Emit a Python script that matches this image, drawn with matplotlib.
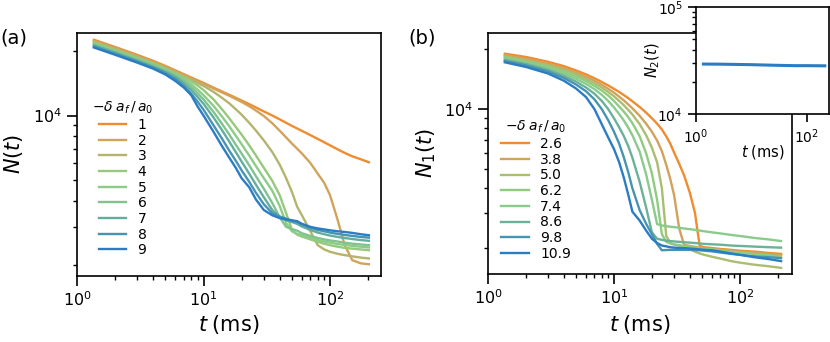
import numpy as np
import matplotlib.pyplot as plt
from matplotlib.ticker import NullFormatter, NullLocator, FixedLocator

# panel (a): N(t) for -delta a_f/a_0 = 1..9
t_a = [1.36, 2, 3, 4, 5, 6, 7, 8, 9, 10, 12, 14, 16, 18, 20, 23, 26, 30, 35, 40,
       45, 50, 55, 60, 70, 80, 90, 100, 115, 130, 150, 175, 203]
a_1 = [22600, 20900, 19200, 18000, 17050, 16250, 15600, 15050, 14600, 14200, 13500, 12950,
       12500, 12100, 11750, 11300, 10900, 10450, 10000, 9600, 9250, 8950, 8700, 8480, 8100,
       7780, 7500, 7260, 6950, 6700, 6450, 6250, 6050]
a_2 = [22370, 20690, 19010, 17820, 16880, 16090, 15440, 14900, 14450, 14060, 13370, 12820,
       12370, 11950, 11580, 11050, 10550, 9950, 9200, 8500, 7900, 7400, 7000, 6650, 6000,
       5350, 4850, 4250, 3250, 2500, 2110, 2040, 2020]
a_3 = [22150, 20480, 18820, 17640, 16710, 15930, 15290, 14700, 14200, 13750, 12900, 12100,
       11400, 10700, 10100, 9250, 8500, 7650, 6750, 5900, 5100, 4400, 3750, 3420, 2880,
       2480, 2370, 2310, 2260, 2230, 2200, 2170, 2150]
a_4 = [21920, 20270, 18620, 17460, 16540, 15760, 15100, 14450, 13800, 13150, 11900, 10700,
       9700, 8850, 8150, 7250, 6500, 5700, 4950, 4250, 3500, 2930, 2780, 2720, 2640,
       2570, 2520, 2480, 2440, 2410, 2390, 2370, 2350]
a_5 = [21700, 20060, 18430, 17280, 16370, 15550, 14800, 14000, 13200, 12450, 11100, 9900,
       8900, 8050, 7350, 6500, 5800, 5100, 4450, 3780, 3150, 2880, 2800, 2760, 2680,
       2620, 2580, 2550, 2510, 2490, 2460, 2440, 2420]
a_6 = [21470, 19860, 18240, 17100, 16200, 15350, 14500, 13600, 12700, 11900, 10400, 9150,
       8150, 7300, 6650, 5850, 5200, 4550, 3900, 3350, 3020, 2950, 2900, 2820, 2740,
       2680, 2640, 2610, 2580, 2550, 2520, 2500, 2480]
a_7 = [21240, 19650, 18050, 16920, 16000, 15100, 14150, 13150, 12200, 11350, 9800, 8550,
       7550, 6750, 6100, 5350, 4750, 4150, 3620, 3350, 3240, 3180, 3120, 3030, 2920,
       2840, 2790, 2750, 2710, 2680, 2650, 2620, 2600]
a_8 = [21020, 19440, 17860, 16740, 15800, 14800, 13750, 12650, 11600, 10650, 9000, 7800,
       6850, 6150, 5550, 4900, 4350, 3850, 3500, 3380, 3300, 3230, 3180, 3100, 2990,
       2920, 2880, 2840, 2800, 2770, 2740, 2710, 2690]
a_9 = [20790, 19230, 17660, 16560, 15550, 14500, 13500, 12450, 11000, 10000, 8400, 7200,
       6350, 5700, 5100, 4620, 4050, 3620, 3420, 3320, 3270, 3240, 3210, 3120, 3020,
       2970, 2940, 2910, 2880, 2860, 2830, 2790, 2760]
labels_a = ['1', '2', '3', '4', '5', '6', '7', '8', '9']

# panel (b): N_1(t)
t_b = [1.36, 2, 3, 4, 5, 6, 7, 8, 9, 10, 11, 12, 13, 14, 16, 18, 20, 22, 24, 26, 28, 30,
       33, 36, 40, 44, 46, 48, 52, 60, 70, 85, 100, 130, 170, 212]
b_26 = [19000, 18300, 17300, 16450, 15650, 14950, 14300, 13700, 13150, 12650, 12200, 11750,
        11350, 10950, 10250, 9600, 9000, 8450, 7900, 7300, 6700, 6050, 5300, 4650, 3800,
        3000, 2450, 2050, 2020, 2000, 1980, 1960, 1940, 1920, 1890, 1870]
b_38 = [18700, 17900, 16900, 16050, 15250, 14550, 13900, 13250, 12650, 12100, 11550, 11050,
        10550, 10100, 9250, 8450, 7700, 6950, 6150, 5250, 4450, 3700, 2500, 2080, 2050,
        2030, 2020, 2010, 2000, 1980, 1960, 1940, 1920, 1900, 1870, 1850]
b_50 = [18450, 17600, 16600, 15750, 14950, 14200, 13500, 12850, 12200, 11600, 11000, 10450,
        9900, 9400, 8400, 7400, 6400, 5400, 4000, 2300, 2120, 2080, 2050, 2020, 1970,
        1920, 1900, 1880, 1850, 1810, 1770, 1720, 1690, 1650, 1620, 1590]
b_62 = [18200, 17350, 16350, 15450, 14600, 13850, 13100, 12400, 11700, 11000, 10300, 9700,
        9100, 8500, 7300, 6000, 4750, 3500, 2350, 2150, 2110, 2090, 2070, 2050, 2030,
        2010, 2000, 1995, 1985, 1970, 1950, 1920, 1900, 1870, 1840, 1810]
b_74 = [17950, 17100, 16050, 15100, 14200, 13400, 12600, 11800, 11000, 10200, 9450, 8750,
        8050, 7400, 6100, 4700, 3500, 2640, 2600, 2580, 2560, 2550, 2530, 2510, 2490,
        2470, 2460, 2450, 2430, 2400, 2370, 2330, 2300, 2250, 2210, 2170]
b_86 = [17700, 16850, 15750, 14700, 13750, 12850, 11950, 11000, 10000, 9000, 8100, 7300,
        6500, 5700, 4300, 3200, 2400, 2230, 2200, 2180, 2170, 2160, 2150, 2140, 2130,
        2120, 2115, 2110, 2100, 2090, 2080, 2060, 2050, 2035, 2020, 2010]
b_98 = [17450, 16600, 15450, 14350, 13300, 12300, 11200, 10000, 8800, 7700, 6700, 5700,
        4800, 4000, 3100, 2650, 2350, 2100, 1950, 1955, 1960, 1960, 1960, 1960, 1960,
        1955, 1950, 1950, 1940, 1925, 1900, 1870, 1850, 1820, 1800, 1780]
b_109 = [17200, 16300, 15100, 13900, 12700, 11500, 10000, 8400, 7200, 6300, 5400, 4500,
         3700, 3050, 2750, 2450, 2230, 2120, 2060, 2040, 2020, 2010, 2000, 2000, 1990,
         1980, 1975, 1970, 1960, 1950, 1920, 1880, 1850, 1800, 1760, 1720]
labels_b = ['2.6', '3.8', '5.0', '6.2', '7.4', '8.6', '9.8', '10.9']

# inset: N_2(t)
t_in = [1.36, 3, 10, 30, 60, 100, 210]
n2_in = [29300, 29200, 28900, 28500, 28300, 28300, 28200]

colors_a = ['#f08c30', '#d2a35b', '#b5b46e', '#97c87c', '#8dcc88', '#80c38e',
            '#63ad9c', '#4694b4', '#2b7cc2']
colors_b = ['#f08c30', '#d1a25c', '#abbd70', '#90cc80', '#8acb8c', '#6ab198',
            '#4894b0', '#2b7cc2']

legend_title = r'$-\delta\;a_f\,/\,a_0$'
xlabel = r'$t\;(\mathrm{ms})$'


def style_log_axes(ax, xlim, ylim, major_len=7, labelsize=11.5):
  ax.set_xscale('log')
  ax.set_yscale('log')
  ax.set_xlim(*xlim)
  ax.set_ylim(*ylim)
  ax.tick_params(which='major', direction='out', length=major_len, width=1.2,
                 labelsize=labelsize)
  ax.tick_params(which='minor', direction='out', length=3, width=1.0)
  ax.yaxis.set_minor_formatter(NullFormatter())
  ax.xaxis.set_minor_formatter(NullFormatter())
  for sp in ax.spines.values():
    sp.set_linewidth(1.2)


fig = plt.figure(figsize=(8.3, 3.42), dpi=100)

# ---- (a)
ax_a = fig.add_axes([77 / 830, 1 - 275.5 / 342, 304 / 830, 242.5 / 342])
for t_vals, n_vals, c, lab in zip([t_a] * 9, [a_1, a_2, a_3, a_4, a_5, a_6, a_7, a_8, a_9],
                                  colors_a, labels_a):
  ax_a.plot(t_vals, n_vals, color=c, lw=1.7, label=lab)
style_log_axes(ax_a, (1, 253), (1790, 24300))
ax_a.set_xlabel(xlabel, fontsize=15)
ax_a.set_ylabel(r'$N(t)$', fontsize=15)
ax_a.xaxis.set_label_coords(0.5, -0.155)
ax_a.yaxis.set_label_coords(-0.171, 0.5)
ax_a.legend(loc='upper left', bbox_to_anchor=(0.049, 0.724), frameon=False,
            title=legend_title, fontsize=10, title_fontsize=10, handlelength=2.0,
            labelspacing=0.12, borderpad=0, borderaxespad=0)

# ---- (b)
ax_b = fig.add_axes([488 / 830, 1 - 273.5 / 342, 304 / 830, 240.5 / 342])
for n_vals, c, lab in zip([b_26, b_38, b_50, b_62, b_74, b_86, b_98, b_109],
                          colors_b, labels_b):
  ax_b.plot(t_b, n_vals, color=c, lw=1.7, label=lab)
style_log_axes(ax_b, (1, 259), (1490, 24150))
ax_b.set_xlabel(xlabel, fontsize=15)
ax_b.set_ylabel(r'$N_1(t)$', fontsize=15)
ax_b.xaxis.set_label_coords(0.5, -0.164)
ax_b.yaxis.set_label_coords(-0.164, 0.5)
ax_b.legend(loc='upper left', bbox_to_anchor=(0.043, 0.642), frameon=False,
            title=legend_title, fontsize=10, title_fontsize=10, handlelength=2.0,
            labelspacing=0.12, borderpad=0, borderaxespad=0)

# ---- inset
ax_in = fig.add_axes([696 / 830, 1 - 114 / 342, 133 / 830, 107 / 342])
ax_in.plot(t_in, n2_in, color='#2b7cc2', lw=2.2)
style_log_axes(ax_in, (1, 250), (1e4, 1e5), major_len=6, labelsize=10)
ax_in.xaxis.set_major_locator(FixedLocator([1, 100]))
ax_in.xaxis.set_minor_locator(NullLocator())
ax_in.set_xlabel(xlabel, fontsize=10.5)
ax_in.set_ylabel(r'$N_2(t)$', fontsize=10.5)
ax_in.xaxis.set_label_coords(0.5, -0.271)
ax_in.yaxis.set_label_coords(-0.256, 0.5)

fig.text(0.0, 1 - 38 / 342, '(a)', fontsize=14, va='center', ha='left')
fig.text(408 / 830, 1 - 38 / 342, '(b)', fontsize=14, va='center', ha='left')

fig.savefig('out.png', dpi=100)
